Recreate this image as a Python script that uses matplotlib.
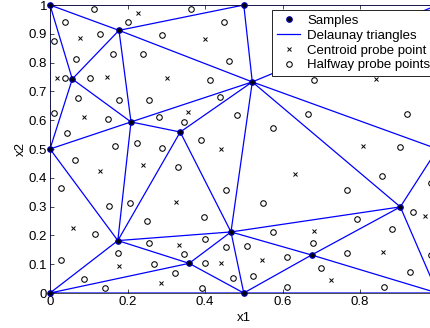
import numpy as np
import matplotlib
matplotlib.use("Agg")
import matplotlib.pyplot as plt
import matplotlib.tri as mtri

# sample locations
sample_x = [0, 0, 0, 0.0575, 0.178, 0.209, 0.336, 0.5, 0.522,
            0.175, 0.359, 0.467, 0.5, 0.675, 0.904, 1, 1, 1]
sample_y = [1, 0.5, 0, 0.743, 0.912, 0.594, 0.559, 1, 0.733,
            0.182, 0.103, 0.212, 0, 0.132, 0.299, 0.5, 1, 0]
xticks = [0, 0.2, 0.4, 0.6, 0.8, 1]
yticks = [0, 0.1, 0.2, 0.3, 0.4, 0.5, 0.6, 0.7, 0.8, 0.9, 1]

plt.rcParams["font.family"] = ["Liberation Sans", "DejaVu Sans"]
plt.rcParams["font.size"] = 9.5

pts = np.column_stack([sample_x, sample_y])
tri = mtri.Triangulation(pts[:, 0], pts[:, 1])
corners = pts[tri.triangles]

# probe points: centroid of each triangle, and halfway from centroid to each vertex
centroids = corners.mean(axis=1)
halfway = ((corners + centroids[:, None, :]) / 2).reshape(-1, 2)

fig = plt.figure(figsize=(4.30, 3.28), dpi=100)
ax = fig.add_axes([0.1163, 0.1067, 0.9012, 0.878])

tri_lines = ax.triplot(tri, color="#0000ff", lw=0.9)
samples, = ax.plot(pts[:, 0], pts[:, 1], "o", ms=4, mfc="k", mec="#0000c0",
                   mew=0.8, ls="none", clip_on=False, zorder=5)
cent, = ax.plot(centroids[:, 0], centroids[:, 1], "x", color="k", ms=3,
                mew=0.7, ls="none")
half, = ax.plot(halfway[:, 0], halfway[:, 1], "o", mfc="none", mec="k",
                ms=4, mew=0.75, ls="none")

ax.set_xlim(0, 1)
ax.set_ylim(0, 1)
ax.set_xticks(xticks)
# the "1" label sits past the cropped right edge of the figure
ax.set_xticklabels(["0", "0.2", "0.4", "0.6", "0.8", ""])
ax.set_yticks(yticks)
ax.set_yticklabels(["0", "0.1", "0.2", "0.3", "0.4", "0.5", "0.6", "0.7", "0.8", "0.9", "1"])
ax.tick_params(direction="in", length=3, width=0.5, top=True, right=True, pad=2)
for s in ax.spines.values():
    s.set_linewidth(0.5)
ax.set_xlabel("x1", labelpad=3)
ax.set_ylabel("x2", labelpad=1)

leg = ax.legend([samples, tri_lines[0], cent, half],
                ["Samples", "Delaunay triangles", "Centroid probe point", "Halfway probe points"],
                loc="upper left", bbox_to_anchor=(0.573, 0.983), borderaxespad=0,
                fancybox=False, edgecolor="k", framealpha=1, handlelength=1.8,
                labelspacing=0.2, borderpad=0.35, handletextpad=0.5)
leg.get_frame().set_linewidth(0.6)

fig.savefig("out.png", dpi=100)
